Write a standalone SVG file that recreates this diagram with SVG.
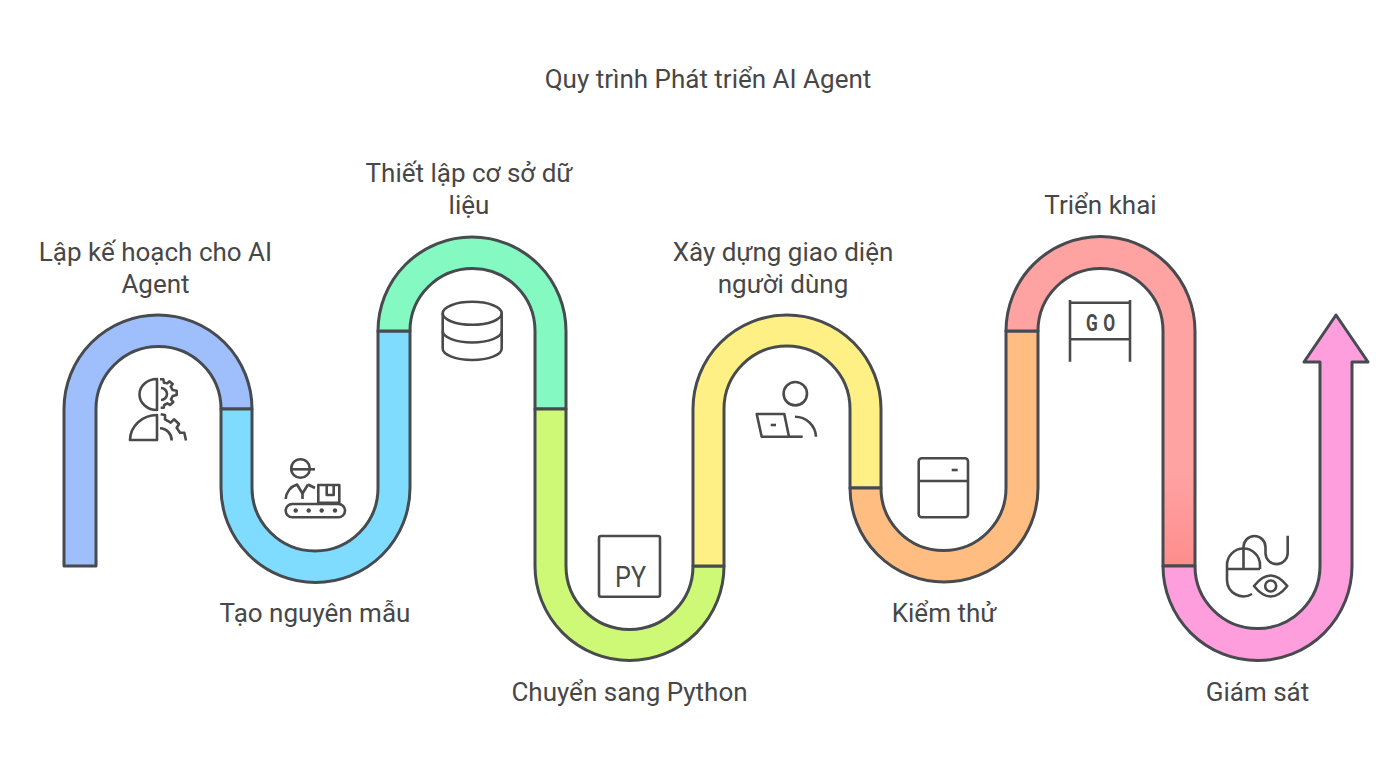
<svg xmlns="http://www.w3.org/2000/svg" width="1400" height="772" viewBox="0 0 1400 772">
<style>
.b{stroke:#474b50;stroke-width:3;stroke-linejoin:round}
.i{fill:none;stroke:#4a4a4a;stroke-width:2.6;stroke-linecap:butt;stroke-linejoin:round}
.t{font-family:Roboto,"Noto Sans",sans-serif;font-size:26px;fill:#474747;text-anchor:middle}
</style>
<defs>
<linearGradient id="red" x1="0" y1="0" x2="0" y2="1"><stop offset="0" stop-color="#ffa2a2"/><stop offset="0.72" stop-color="#ffa2a2"/><stop offset="1" stop-color="#ff8d8d"/></linearGradient>
</defs>
<rect width="1400" height="772" fill="#fff"/>
<text id="title" class="t" x="708" y="88">Quy trình Phát triển AI Agent</text>
<g id="connectors">
<path class="b" fill="#9fbffc" d="M64 566V409A94 94 0 0 1 252 409H221A62.5 62.5 0 0 0 96 409V566Z"/>
<path class="b" fill="#7fdcff" d="M221 409H252V488A63 63 0 0 0 378 488V331H410V488A94.5 94.5 0 0 1 221 488Z"/>
<path class="b" fill="#84f9c1" d="M378 331A94 94 0 0 1 566 331V409H535V331A62.5 62.5 0 0 0 410 331Z"/>
<path class="b" fill="#cdf977" d="M535 409H566V566A63.500 63.500 0 0 0 693 566H724A94.500 94.500 0 0 1 535 566Z"/>
<path class="b" fill="#fff086" d="M693 566V409A94 94 0 0 1 881 409V488H850V409A63 63 0 0 0 724 409V566Z"/>
<path class="b" fill="#ffbd82" d="M850 488H881A62.500 62.500 0 0 0 1006 488V331H1038V488A94 94 0 0 1 850 488Z"/>
<path class="b" fill="url(#red)" d="M1006 331A94.500 94.500 0 0 1 1195 331V566H1163V331A62.500 62.500 0 0 0 1038 331Z"/>
<path class="b" fill="#ff9edc" d="M1163 566H1195A62.500 62.500 0 0 0 1320 566V362H1304L1336 315L1368 362H1352V566A94.500 94.500 0 0 1 1163 566Z"/>
</g>
<g id="step-plan">
<text class="t" x="155.500" y="261">Lập kế hoạch cho AI</text>
<text class="t" x="155.500" y="292.500">Agent</text>
<g class="i">
<path d="M157 379A17.500 15.500 0 0 0 157 410Z"/>
<path d="M157 415A27 25.500 0 0 0 130 440H157Z"/>
<path d="M160 379.300H163.300L164 382.700L167.300 383.300L169.300 381.300L172.700 384L170.700 386.700L172.700 390L176.700 390.700V395L172.700 396L171 399.300L173.300 402L170 405L167.300 403.300L164.300 405L163.700 407.700H160.700"/>
<path d="M161 388A6 6 0 0 1 161 400"/>
<path d="M160.700 414.300L165 415V419.300L170.700 422.700L174 419.300L179 424L176.700 427.700L180 432.700H184.300L186 440.500"/>
<path d="M160 428.300A12 12 0 0 1 171.700 440.500"/>
</g>
</g>
<g id="step-prototype">
<text class="t" x="315" y="621.500">Tạo nguyên mẫu</text>
<g class="i">
<circle cx="300.500" cy="468.500" r="9.300"/>
<path d="M291.300 469.300H315"/>
<path d="M285.700 499A16 16 0 0 1 297 484.500L302.500 493.500L308 484.500"/>
<path d="M302.500 493.500V499"/>
<path d="M308 484.500L315 488"/>
<rect x="318.300" y="485" width="21" height="17.700"/>
<path d="M326.700 485V495H333.700V485"/>
<rect x="285.700" y="504" width="59.300" height="13.300" rx="6.650"/>
</g>
<g fill="#4a4a4a"><circle cx="295.700" cy="510.500" r="2.200"/><circle cx="308.700" cy="510.500" r="2.200"/><circle cx="321.700" cy="510.500" r="2.200"/><circle cx="335" cy="510.500" r="2.200"/></g>
</g>
<g id="step-database">
<text class="t" x="469" y="182">Thiết lập cơ sở dữ</text>
<text class="t" x="469" y="213.500">liệu</text>
<g class="i">
<ellipse cx="472.200" cy="313.300" rx="29.500" ry="11.500"/>
<path d="M442.700 313.300V348.500A29.500 11.500 0 0 0 501.700 348.500V313.300"/>
<path d="M442.700 331A29.500 11.500 0 0 0 501.700 331"/>
</g>
</g>
<g id="step-python">
<text class="t" x="629.500" y="700.500">Chuyển sang Python</text>
<rect class="i" x="599" y="536" width="61" height="60.700" rx="2"/>
<text x="615" y="587" textLength="31" lengthAdjust="spacingAndGlyphs" font-family="Roboto,sans-serif" font-weight="400" font-size="30" fill="#4a4a4a">PY</text>
</g>
<g id="step-ui">
<text class="t" x="783" y="261">Xây dựng giao diện</text>
<text class="t" x="783" y="292.500">người dùng</text>
<g class="i">
<circle cx="795.300" cy="393.700" r="11.700"/>
<path d="M756.700 414H784.300L789 436.700H761.700Z"/>
<path d="M789 436.700H802.700"/>
<path d="M770.700 425H776"/>
<path d="M795 416.700A21 21 0 0 1 816 436.700"/>
</g>
</g>
<g id="step-test">
<text class="t" x="944" y="621.500">Kiểm thử</text>
<g class="i">
<rect x="918.700" y="458.300" width="49.300" height="59" rx="3"/>
<path d="M918.700 481H968"/>
<path d="M951.700 470H957.700"/>
</g>
</g>
<g id="step-deploy">
<text class="t" x="1100.500" y="213.500">Triển khai</text>
<g class="i">
<path d="M1070 300V361.700M1130 300V361.700M1070 302.700H1130M1070 339.300H1130"/>
</g>
<text transform="translate(1086 330.500) scale(.75 1)" x="0 23" y="0" font-family="Roboto,sans-serif" font-weight="700" font-size="23" fill="#4a4a4a">GO</text>
</g>
<g id="step-monitor">
<text class="t" x="1257.500" y="700.500">Giám sát</text>
<g class="i">
<path d="M1260 569V565A16.500 16.500 0 0 0 1227 565V580A16.500 16.500 0 0 0 1252 594"/>
<path d="M1227 569H1260"/>
<path d="M1243.500 569V547A11 11 0 0 1 1265.500 547V553A11 11 0 0 0 1287.700 553V535.700"/>
<path d="M1254 586Q1270.700 565 1287.300 586Q1270.700 607 1254 586Z"/>
<circle cx="1270.700" cy="586" r="5.500"/>
</g>
</g>
</svg>
